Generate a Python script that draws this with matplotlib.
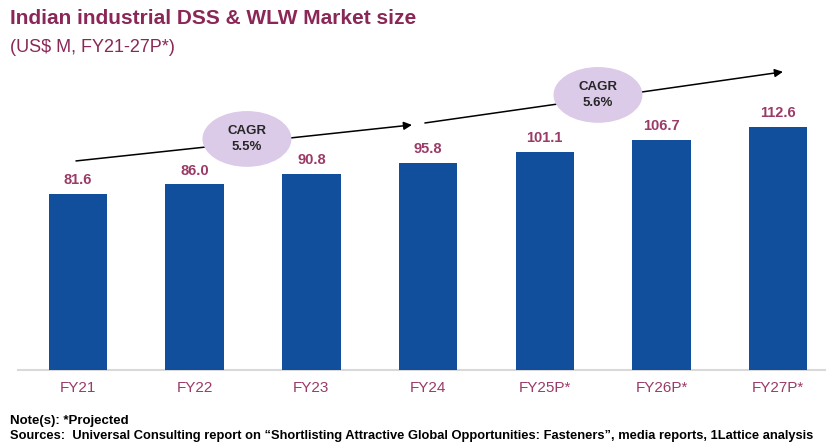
import matplotlib.pyplot as plt
from matplotlib.patches import Ellipse

# DATA
years = ['FY21', 'FY22', 'FY23', 'FY24', 'FY25P*', 'FY26P*', 'FY27P*']
market_size = [81.6, 86.0, 90.8, 95.8, 101.1, 106.7, 112.6]
cagr_labels = ['CAGR\n5.5%', 'CAGR\n5.6%']

# STYLE
bar_color = '#114e9c'
label_color = '#9b3a66'
title_color = '#8a2756'
ellipse_color = '#dccbe8'
plt.rcParams['font.family'] = ['Liberation Sans', 'DejaVu Sans']
narrow_font = ['Liberation Sans Narrow', 'Liberation Sans', 'DejaVu Sans']

fig = plt.figure(figsize=(8.26, 4.42), dpi=100)
ax = fig.add_axes([0, 0.1629, 1, 0.7014])

x = range(len(years))
ax.bar(x, market_size, width=0.5, color=bar_color, zorder=2)
for i, v in enumerate(market_size):
    ax.annotate(f'{v:.1f}', (i, v), xytext=(0, 5), textcoords='offset points',
                ha='center', va='bottom', fontsize=10.5, fontweight='bold',
                color=label_color)

ax.set_xlim(-0.668, 6.41)
ax.set_ylim(0, 143.7)
ax.plot([-0.51, 6.41], [0, 0], color='#d9d9d9', lw=1.5, zorder=1,
        clip_on=False)
for s in ax.spines.values():
    s.set_visible(False)
ax.set_yticks([])
ax.set_xticks(list(x))
ax.set_xticklabels(years, fontsize=11, color=label_color, family=narrow_font)
ax.tick_params(axis='x', length=0, pad=8)

# CAGR arrows and bubbles
arrows = [((-0.017, 96.9), (2.862, 113.6)), ((2.973, 114.5), (6.041, 138.2))]
bubbles = [(1.448, 107.1), (4.456, 127.5)]
for (p0, p1), c, txt in zip(arrows, bubbles, cagr_labels):
    ax.annotate('', xy=p1, xytext=p0,
                arrowprops=dict(arrowstyle='-|>', color='black', lw=1.1,
                                mutation_scale=12, shrinkA=0, shrinkB=0),
                annotation_clip=False, zorder=3)
    ax.add_patch(Ellipse(c, 0.75, 25.2, color=ellipse_color, zorder=4,
                         clip_on=False))
    ax.text(c[0], c[1], txt, ha='center', va='center', fontsize=9.5,
            fontweight='bold', color='#262626', zorder=5, linespacing=1.45)

# Titles
fig.text(0.012, 0.958, 'Indian industrial DSS & WLW Market size', fontsize=15,
         fontweight='bold', color=title_color, va='center')
fig.text(0.012, 0.892, '(US$ M, FY21-27P*)', fontsize=13,
         color=title_color, va='center')

# Notes
fig.text(0.012, 0.048, 'Note(s): *Projected', fontsize=9.5, fontweight='bold',
         family=narrow_font, va='center')
fig.text(0.012, 0.013,
         'Sources:  Universal Consulting report on \u201cShortlisting Attractive '
         'Global Opportunities: Fasteners\u201d, media reports, 1Lattice analysis',
         fontsize=9.3, fontweight='bold', family=narrow_font, va='center')

fig.savefig('out.png', dpi=100)
